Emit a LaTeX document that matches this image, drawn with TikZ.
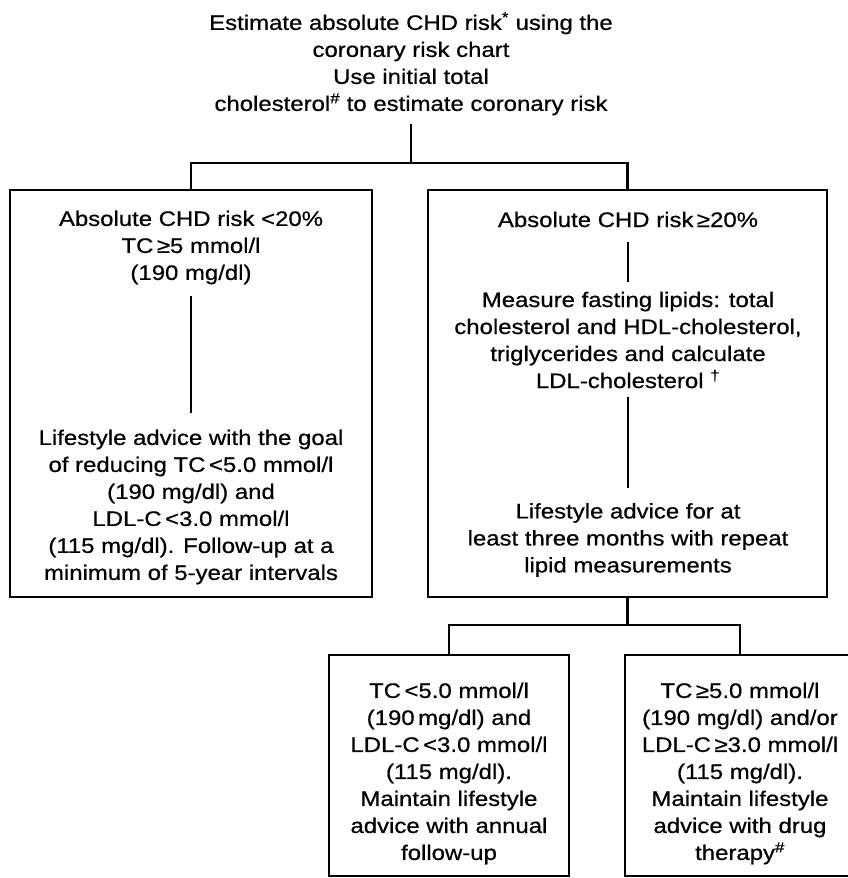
\documentclass[tikz,border=0pt]{standalone}
\usepackage{fontspec}
\setmainfont{Liberation Sans}[FakeStretch=1.14,FakeBold=0.6]
\begin{document}
\begin{tikzpicture}[x=1pt,y=-1pt,
  box/.style={draw, line width=2.5pt, inner sep=0pt, outer sep=0pt},
  txt/.style={align=center, inner sep=0pt, outer sep=0pt, font=\fontsize{21}{27}\selectfont},
  conn/.style={line width=2.3pt}]
\useasboundingbox (0,0) rectangle (848,878);
\clip (0,0) rectangle (848,878);

% top text
\node[txt] (T) at (411,63.75) {Estimate absolute CHD risk\textsuperscript{*} using the\\coronary risk chart\\Use initial total\\cholesterol\textsuperscript{\#} to estimate coronary risk};

% main boxes
\node[box, minimum width=362pt, minimum height=407pt] (Lbox) at (191,393.5) {};
\node[box, minimum width=399pt, minimum height=407pt] (Rbox) at (627.5,393.5) {};

% left box texts
\node[txt] (L1) at (191,247.5) {Absolute CHD risk <20\%\\TC\,≥5 mmol/l\\(190 mg/dl)};
\node[txt] (L2) at (191,507) {Lifestyle advice with the goal\\of reducing TC\,<5.0 mmol/l\\(190 mg/dl) and\\LDL-C\,<3.0 mmol/l\\(115 mg/dl). Follow-up at a\\minimum of 5-year intervals};

% right box texts
\node[txt] (R1) at (628,219.5) {Absolute CHD risk\,≥20\%};
\node[txt] (R2) at (628,340) {Measure fasting lipids: total\\cholesterol and HDL-cholesterol,\\triglycerides and calculate\\LDL-cholesterol \textsuperscript{†}};
\node[txt] (R3) at (628,540) {Lifestyle advice for at\\least three months with repeat\\lipid measurements};

% bottom boxes
\node[box, minimum width=240pt, minimum height=221pt] (BLbox) at (449,765.5) {};
\node[box, minimum width=260pt, minimum height=221pt] (BRbox) at (755,765.5) {};
\node[txt] (BL) at (449,773.5) {TC\,<5.0 mmol/l\\(190\,mg/dl) and\\LDL-C\,<3.0 mmol/l\\(115 mg/dl).\\Maintain lifestyle\\advice with annual\\follow-up};
\node[txt] (BR) at (740,773.5) {TC\,≥5.0 mmol/l\\(190 mg/dl) and/or\\LDL-C\,≥3.0 mmol/l\\(115 mg/dl).\\Maintain lifestyle\\advice with drug\\therapy\textsuperscript{\#}};

% junctions
\coordinate (j1) at (411,163);
\coordinate (j2) at (627.5,625);

% connectors
\draw[conn, shorten <=8.5pt] (T.south) -- (j1);
\draw[conn] (Lbox.north) |- (j1) -| (Rbox.north);
\draw[conn, shorten <=12pt, shorten >=17pt] (L1.south) -- (L2.north);
\draw[conn, shorten <=15pt, shorten >=10pt] (R1.south) -- (R2.north);
\draw[conn, shorten <=9pt, shorten >=15pt] (R2.south) -- (R3.north);
\draw[conn] (Rbox.south) -- (j2);
\draw[conn] (BLbox.north) |- (j2) -| (BRbox.north -| BR);
\end{tikzpicture}
\end{document}
